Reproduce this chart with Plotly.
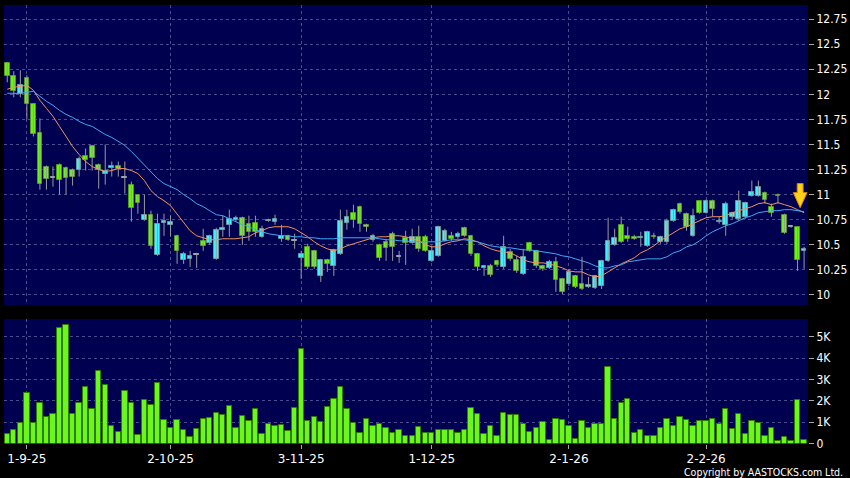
import plotly.graph_objects as go
import pandas as pd

# ---------------- data ----------------
holidays = ['2025-10-01', '2025-10-07', '2025-10-29', '2025-12-25', '2025-12-26',
            '2026-01-01', '2026-02-17', '2026-02-18', '2026-02-19']
dates = pd.bdate_range('2025-08-27', '2026-02-26', freq='C', holidays=holidays)

open_ = [12.31, 12.18, 12.00, 12.16, 11.90, 11.61, 11.28, 11.17, 11.30, 11.27,
         11.25, 11.25, 11.39, 11.48, 11.30, 11.21, 11.27, 11.29, 11.17, 11.10,
         11.00, 10.75, 10.80, 10.40, 10.72, 10.70, 10.59, 10.35, 10.36, 10.40,
         10.54, 10.52, 10.36, 10.65, 10.70, 10.75, 10.77, 10.71, 10.72, 10.58,
         10.74, 10.73, 10.56, 10.59, 10.54, 10.37, 10.48, 10.44, 10.19, 10.35,
         10.29, 10.41, 10.72, 10.82, 10.88, 10.70, 10.55, 10.50, 10.53, 10.61,
         10.38, 10.57, 10.52, 10.58, 10.58, 10.34, 10.39, 10.54, 10.59, 10.58,
         10.67, 10.59, 10.41, 10.27, 10.29, 10.34, 10.28, 10.43, 10.35, 10.21,
         10.52, 10.44, 10.29, 10.27, 10.33, 10.16, 10.11, 10.19, 10.11, 10.08,
         10.07, 10.09, 10.34, 10.50, 10.70, 10.59, 10.58, 10.57, 10.49, 10.59,
         10.53, 10.53, 10.74, 10.91, 10.81, 10.59, 10.94, 10.82, 10.94, 10.73,
         10.70, 10.78, 10.76, 10.78, 10.99, 10.99, 11.02, 10.88, 11.00, 10.80,
         10.68, 10.68, 10.44]
high = [12.32, 12.23, 12.24, 12.19, 11.91, 11.76, 11.29, 11.28, 11.31, 11.28,
        11.26, 11.38, 11.46, 11.49, 11.31, 11.50, 11.33, 11.33, 11.33, 11.13,
        11.00, 11.00, 10.84, 10.81, 10.81, 10.79, 10.60, 10.43, 10.44, 10.42,
        10.66, 10.60, 10.67, 10.79, 10.85, 10.79, 10.78, 10.79, 10.79, 10.69,
        10.76, 10.80, 10.70, 10.60, 10.61, 10.44, 10.51, 10.45, 10.36, 10.36,
        10.46, 10.85, 10.85, 10.90, 10.89, 10.71, 10.61, 10.51, 10.56, 10.63,
        10.44, 10.64, 10.66, 10.69, 10.60, 10.48, 10.69, 10.66, 10.63, 10.63,
        10.68, 10.60, 10.42, 10.30, 10.31, 10.35, 10.59, 10.46, 10.39, 10.46,
        10.53, 10.45, 10.30, 10.35, 10.38, 10.17, 10.26, 10.20, 10.38, 10.18,
        10.20, 10.35, 10.77, 10.66, 10.78, 10.68, 10.60, 10.63, 10.64, 10.62,
        10.59, 10.76, 10.86, 10.92, 10.82, 10.86, 10.94, 10.95, 10.95, 10.78,
        10.93, 10.83, 11.04, 10.93, 11.14, 11.14, 11.03, 10.91, 11.01, 10.81,
        10.69, 10.68, 10.48]
low = [12.12, 11.97, 11.97, 11.75, 11.58, 11.05, 11.05, 11.08, 11.00, 11.00,
       11.09, 11.18, 11.24, 11.24, 11.06, 11.10, 11.18, 11.18, 11.01, 10.73,
       10.81, 10.74, 10.46, 10.39, 10.59, 10.58, 10.31, 10.31, 10.28, 10.27,
       10.44, 10.50, 10.35, 10.58, 10.58, 10.73, 10.50, 10.54, 10.58, 10.57,
       10.73, 10.70, 10.53, 10.54, 10.46, 10.16, 10.26, 10.26, 10.13, 10.23,
       10.19, 10.40, 10.65, 10.67, 10.63, 10.63, 10.53, 10.34, 10.34, 10.34,
       10.32, 10.30, 10.51, 10.43, 10.43, 10.33, 10.38, 10.53, 10.54, 10.56,
       10.58, 10.39, 10.24, 10.19, 10.18, 10.28, 10.26, 10.34, 10.22, 10.20,
       10.43, 10.27, 10.24, 10.26, 10.03, 10.01, 10.09, 10.07, 10.05, 10.07,
       10.06, 10.06, 10.33, 10.49, 10.52, 10.53, 10.55, 10.48, 10.48, 10.56,
       10.51, 10.51, 10.73, 10.81, 10.64, 10.58, 10.81, 10.81, 10.78, 10.71,
       10.59, 10.76, 10.74, 10.76, 10.98, 10.98, 10.91, 10.78, 10.91, 10.61,
       10.67, 10.24, 10.26]
close = [12.18, 12.03, 12.09, 11.90, 11.60, 11.11, 11.16, 11.17, 11.15, 11.17,
         11.18, 11.36, 11.35, 11.37, 11.25, 11.24, 11.29, 11.26, 11.17, 10.87,
         10.92, 10.80, 10.49, 10.71, 10.74, 10.73, 10.44, 10.41, 10.39, 10.40,
         10.49, 10.59, 10.65, 10.67, 10.76, 10.77, 10.59, 10.63, 10.63, 10.66,
         10.75, 10.76, 10.59, 10.55, 10.54, 10.41, 10.28, 10.28, 10.35, 10.31,
         10.45, 10.74, 10.78, 10.75, 10.71, 10.68, 10.59, 10.37, 10.47, 10.48,
         10.38, 10.52, 10.58, 10.46, 10.44, 10.44, 10.68, 10.64, 10.56, 10.61,
         10.59, 10.41, 10.28, 10.29, 10.20, 10.30, 10.48, 10.36, 10.24, 10.38,
         10.44, 10.29, 10.26, 10.33, 10.15, 10.03, 10.23, 10.08, 10.06, 10.10,
         10.19, 10.34, 10.54, 10.57, 10.53, 10.56, 10.56, 10.58, 10.63, 10.58,
         10.58, 10.74, 10.85, 10.83, 10.68, 10.79, 10.82, 10.94, 10.86, 10.74,
         10.91, 10.82, 10.94, 10.92, 11.03, 11.08, 10.95, 10.82, 10.99, 10.62,
         10.68, 10.35, 10.46]
volume_k = [0.45, 0.64, 0.95, 2.38, 0.97, 1.88, 1.25, 1.39, 5.40, 5.53,
            1.40, 1.92, 2.66, 1.60, 3.40, 2.73, 0.83, 0.56, 2.45, 1.90,
            0.40, 2.04, 1.78, 2.85, 1.12, 0.73, 1.09, 0.62, 0.31, 0.70,
            1.15, 1.18, 1.43, 1.34, 1.76, 0.73, 1.28, 1.06, 1.60, 0.45,
            0.90, 0.84, 0.87, 0.59, 1.68, 4.41, 1.07, 1.26, 1.01, 1.73,
            2.09, 2.63, 1.60, 0.98, 0.48, 1.17, 0.84, 0.90, 0.72, 0.48,
            0.65, 0.37, 0.37, 0.79, 0.48, 0.51, 0.64, 0.64, 0.64, 0.51,
            0.61, 1.68, 1.39, 0.45, 0.83, 0.37, 1.45, 1.34, 1.34, 0.92,
            0.56, 0.73, 1.00, 0.17, 1.15, 1.11, 0.83, 0.20, 1.04, 0.73,
            0.92, 0.92, 3.58, 1.14, 1.90, 2.09, 0.48, 0.64, 0.37, 0.33,
            0.72, 1.15, 0.83, 1.23, 1.11, 0.83, 1.06, 1.06, 1.15, 0.92,
            1.60, 0.67, 1.37, 0.45, 1.06, 0.95, 0.37, 0.73, 0.12, 0.31,
            0.14, 2.04, 0.17]
ma10 = [12.05, 12.07, 12.08, 12.09, 12.04, 11.94, 11.86, 11.78, 11.68, 11.58,
        11.48, 11.40, 11.33, 11.28, 11.25, 11.23, 11.24, 11.26, 11.26, 11.24,
        11.21, 11.14, 11.04, 10.98, 10.94, 10.89, 10.81, 10.72, 10.64, 10.59,
        10.57, 10.55, 10.55, 10.56, 10.56, 10.56, 10.57, 10.58, 10.62, 10.64,
        10.67, 10.68, 10.68, 10.68, 10.66, 10.62, 10.58, 10.53, 10.49, 10.46,
        10.44, 10.46, 10.49, 10.51, 10.53, 10.55, 10.57, 10.58, 10.58, 10.59,
        10.59, 10.58, 10.56, 10.54, 10.50, 10.48, 10.48, 10.51, 10.53, 10.54,
        10.56, 10.55, 10.53, 10.49, 10.46, 10.44, 10.43, 10.42, 10.39, 10.35,
        10.33, 10.32, 10.32, 10.31, 10.29, 10.27, 10.24, 10.23, 10.23, 10.20,
        10.18, 10.19, 10.23, 10.27, 10.31, 10.34, 10.37, 10.42, 10.45, 10.49,
        10.54, 10.58, 10.62, 10.66, 10.68, 10.71, 10.74, 10.77, 10.78, 10.78,
        10.79, 10.82, 10.84, 10.86, 10.88, 10.91, 10.92, 10.90, 10.92, 10.90,
        10.88, 10.85, 10.82]
ma20 = [12.01, 12.01, 12.01, 12.02, 12.03, 11.98, 11.93, 11.89, 11.84, 11.80,
        11.77, 11.73, 11.70, 11.68, 11.64, 11.60, 11.57, 11.53, 11.49, 11.43,
        11.36, 11.29, 11.22, 11.16, 11.11, 11.08, 11.05, 11.00, 10.96, 10.91,
        10.88, 10.84, 10.80, 10.79, 10.76, 10.73, 10.70, 10.68, 10.65, 10.63,
        10.61, 10.60, 10.59, 10.59, 10.58, 10.58, 10.57, 10.57, 10.56, 10.56,
        10.56, 10.57, 10.57, 10.57, 10.57, 10.57, 10.57, 10.56, 10.55, 10.55,
        10.54, 10.54, 10.53, 10.53, 10.53, 10.53, 10.53, 10.54, 10.55, 10.55,
        10.55, 10.54, 10.53, 10.51, 10.49, 10.48, 10.47, 10.47, 10.46, 10.45,
        10.45, 10.44, 10.43, 10.42, 10.41, 10.39, 10.38, 10.36, 10.34, 10.32,
        10.29, 10.27, 10.27, 10.29, 10.30, 10.33, 10.34, 10.35, 10.36, 10.36,
        10.36, 10.38, 10.42, 10.44, 10.48, 10.50, 10.54, 10.59, 10.63, 10.66,
        10.69, 10.71, 10.74, 10.77, 10.79, 10.82, 10.83, 10.84, 10.84, 10.85,
        10.85, 10.84, 10.83]

tick_dates = ['2025-09-01', '2025-10-02', '2025-11-03', '2025-12-01', '2026-01-02', '2026-02-02']
tick_labels = ['1-9-25', '2-10-25', '3-11-25', '1-12-25', '2-1-26', '2-2-26']
price_ticks = [10, 10.25, 10.5, 10.75, 11, 11.25, 11.5, 11.75, 12, 12.25, 12.5, 12.75]
price_tick_labels = ['10', '10.25', '10.5', '10.75', '11', '11.25', '11.5', '11.75',
                     '12', '12.25', '12.5', '12.75']
vol_ticks = [0, 1, 2, 3, 4, 5]
vol_tick_labels = ['0', '1K', '2K', '3K', '4K', '5K']
signal_index = 121.4      # sell-signal arrow (bar position)
signal_price = 10.87      # arrow tip price

# ---------------- figure ----------------
n = len(close)
xs = list(range(n))
date_strs = [d.strftime('%Y-%m-%d') for d in dates][:n]
tick_pos = [date_strs.index(d) for d in tick_dates]

UP_FILL, UP_LINE = '#3cf4ff', '#5d9aa6'
DN_FILL, DN_LINE = '#6cf21a', '#4c9a18'
DJ_FILL, DJ_LINE = '#9aa6b0', '#9aa6b0'

body_base, body_h, fills, lines = [], [], [], []
for o, c in zip(open_, close):
    body_base.append(min(o, c))
    body_h.append(max(abs(c - o), 0.008))
    if c > o:
        fills.append(UP_FILL); lines.append(UP_LINE)
    elif c < o:
        fills.append(DN_FILL); lines.append(DN_LINE)
    else:
        fills.append(DJ_FILL); lines.append(DJ_LINE)

wx, wy = [], []
for i, (h, l) in enumerate(zip(high, low)):
    wx += [i, i, None]
    wy += [l, h, None]

fig = go.Figure()
fig.add_trace(go.Bar(x=xs, y=volume_k, width=0.82, xaxis='x2', yaxis='y2',
                     marker=dict(color='#6cf71c', line=dict(color='#2e7d00', width=1)),
                     hoverinfo='skip'))
fig.add_trace(go.Scatter(x=wx, y=wy, mode='lines', line=dict(color='#9a9a9a', width=1),
                         xaxis='x', yaxis='y', hoverinfo='skip'))
fig.add_trace(go.Bar(x=xs, y=body_h, base=body_base, width=0.72, xaxis='x', yaxis='y',
                     marker=dict(color=fills, line=dict(color=lines, width=1)),
                     hoverinfo='skip'))
fig.add_trace(go.Scatter(x=xs, y=ma10, mode='lines', line=dict(color='#f5915a', width=1),
                         xaxis='x', yaxis='y', hoverinfo='skip'))
fig.add_trace(go.Scatter(x=xs, y=ma20, mode='lines', line=dict(color='#3fa9f5', width=1),
                         xaxis='x', yaxis='y', hoverinfo='skip'))

# arrow marker (down arrow) built around the signal point
hx, sx = 1.05, 0.45
shaft_top, head_top = signal_price + 0.24, signal_price + 0.15
path = (f"M {signal_index - sx},{shaft_top} L {signal_index + sx},{shaft_top} "
        f"L {signal_index + sx},{head_top} L {signal_index + hx},{head_top} "
        f"L {signal_index},{signal_price} L {signal_index - hx},{head_top} "
        f"L {signal_index - sx},{head_top} Z")
fig.add_shape(type='path', path=path, xref='x', yref='y',
              fillcolor='#ffd21a', line=dict(color='#d88a00', width=1))

GRID = '#4b4b8c'
xdom = [4 / 850, 808 / 850]
xcommon = dict(domain=xdom, range=[-0.5, 122.6], tickvals=tick_pos, showgrid=True,
               gridcolor=GRID, griddash='3px,3px', gridwidth=1, zeroline=False,
               showline=False, fixedrange=True, automargin=False)
ycommon = dict(side='right', showgrid=True, gridcolor=GRID, griddash='3px,3px',
               zeroline=False, ticks='outside', ticklen=5, tickcolor='#aaaaaa',
               tickfont=dict(family='DejaVu Sans Condensed, DejaVu Sans', size=12,
                             color='#ffffff'),
               fixedrange=True, automargin=False)
fig.update_layout(
    width=850, height=478,
    margin=dict(l=0, r=0, t=0, b=0, pad=0, autoexpand=False),
    paper_bgcolor='#000000', plot_bgcolor='#000050',
    showlegend=False, barmode='overlay', bargap=0,
    font=dict(family='DejaVu Sans', color='#ffffff', size=12),
    xaxis=dict(**xcommon, anchor='y', showticklabels=False, ticks=''),
    xaxis2=dict(**xcommon, anchor='y2', ticktext=tick_labels, showticklabels=True,
                ticks='outside', ticklen=4, tickcolor='#aaaaaa',
                tickfont=dict(family='DejaVu Sans', size=12, color='#ffffff')),
    yaxis=dict(**ycommon, domain=[1 - 305 / 478, 1 - 5 / 478], range=[9.90, 12.89],
               anchor='x', tickvals=price_ticks, ticktext=price_tick_labels),
    yaxis2=dict(**ycommon, domain=[1 - 443.5 / 478, 1 - 319 / 478], range=[0, 5.83],
                anchor='x2', tickvals=vol_ticks, ticktext=vol_tick_labels),
)
fig.add_annotation(text='Copyright by AASTOCKS.com Ltd.', xref='paper', yref='paper',
                   x=845 / 850, y=1 - 471.5 / 478, xanchor='right', yanchor='middle',
                   showarrow=False,
                   font=dict(family='DejaVu Sans Condensed, DejaVu Sans', size=10.5,
                             color='#ffffff'))

fig.write_html('out.html', config={'displayModeBar': False},
               post_script="document.body.style.margin='0';document.body.style.padding='0';"
                           "document.body.style.background='#000';")
